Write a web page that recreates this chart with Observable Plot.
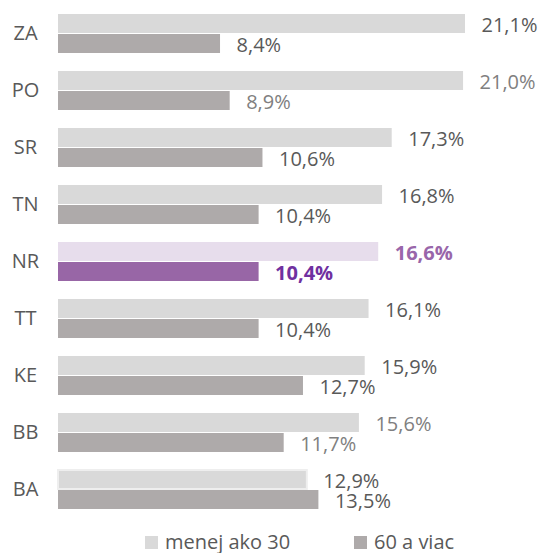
<!DOCTYPE html>
<html>
<head>
<meta charset="utf-8">
<script src="https://cdn.jsdelivr.net/npm/d3@7"></script>
<script src="https://cdn.jsdelivr.net/npm/@observablehq/plot@0.6"></script>
<style>
  body { margin: 0; background: #fff; font-family: "Open Sans", sans-serif; }
  #legend { position: relative; height: 22px; margin-top: 3px; font-size: 20px; line-height: 22px; color: #595959; }
  .item { position: absolute; top: 0; display: flex; align-items: center; height: 22px; line-height: 22px; }
  .sw { width: 13px; height: 13px; margin-right: 7px; }
</style>
</head>
<body>
<div id="chart"></div>
<div id="legend"></div>
<script>
const regions = ["ZA", "PO", "SR", "TN", "NR", "TT", "KE", "BB", "BA"];
const under30 = [21.1, 21.0, 17.3, 16.8, 16.6, 16.1, 15.9, 15.6, 12.9];
const over60 = [8.4, 8.9, 10.6, 10.4, 10.4, 10.4, 12.7, 11.7, 13.5];
const seriesNames = ["menej ako 30", "60 a viac"];
const highlight = "NR";
const mutedLabels = ["PO", "BB"];

const seriesColors = ["#d9d9d9", "#aeaaaa"];
const highlightColors = ["#e7ddec", "#9866a6"];
const highlightText = ["#9966aa", "#7030a0"];

const data = [];
regions.forEach((r, i) => {
  data.push({region: r, series: seriesNames[0], s: 0, value: under30[i]});
  data.push({region: r, series: seriesNames[1], s: 1, value: over60[i]});
});

const fmt = v => d3.format(".1f")(v).replace(".", ",") + "%";
const normal = data.filter(d => d.region !== highlight);
const hl = data.filter(d => d.region === highlight);

const chart = Plot.plot({
  width: 543,
  height: 528,
  marginTop: 12,
  marginBottom: 18,
  marginLeft: 58,
  marginRight: 78,
  style: {fontFamily: "Open Sans, sans-serif", fontSize: "20px", color: "#595959", background: "#fff"},
  fy: {domain: regions, paddingInner: 0.3, paddingOuter: 0, label: null},
  y: {domain: seriesNames, paddingInner: 0.05, paddingOuter: 0, axis: null},
  x: {domain: [0, 21.1], axis: null},
  marks: [
    Plot.barX(data, {
      fy: "region", y: "series", x: "value",
      fill: d => d.region === highlight ? highlightColors[d.s] : seriesColors[d.s],
      stroke: d => (d.region === "BA" && d.s === 0) ? "#eeeeee" : "none",
      strokeWidth: 2
    }),
    Plot.text(normal, {
      fy: "region", y: "series", x: "value",
      text: d => fmt(d.value),
      dx: 16, dy: 2,
      textAnchor: "start",
      fontSize: 20,
      fill: d => mutedLabels.includes(d.region) ? "#808080" : "#595959"
    }),
    Plot.text(hl, {
      fy: "region", y: "series", x: "value",
      text: d => fmt(d.value),
      dx: 16, dy: 2,
      textAnchor: "start",
      fontSize: 20,
      fontWeight: "bold",
      fill: d => highlightText[d.s]
    }),
    Plot.axisFy({anchor: "left", label: null, tickSize: 0, tickPadding: 33, textAnchor: "middle", fontSize: 20, fill: "#595959"})
  ]
});
document.getElementById("chart").appendChild(chart);

const legend = document.getElementById("legend");
const legendX = [145, 354];
seriesNames.forEach((name, i) => {
  const it = document.createElement("div");
  it.className = "item";
  it.style.left = legendX[i] + "px";
  const sw = document.createElement("span");
  sw.className = "sw";
  sw.style.background = seriesColors[i];
  const t = document.createElement("span");
  t.textContent = name;
  it.appendChild(sw); it.appendChild(t);
  legend.appendChild(it);
});
</script>
</body>
</html>
